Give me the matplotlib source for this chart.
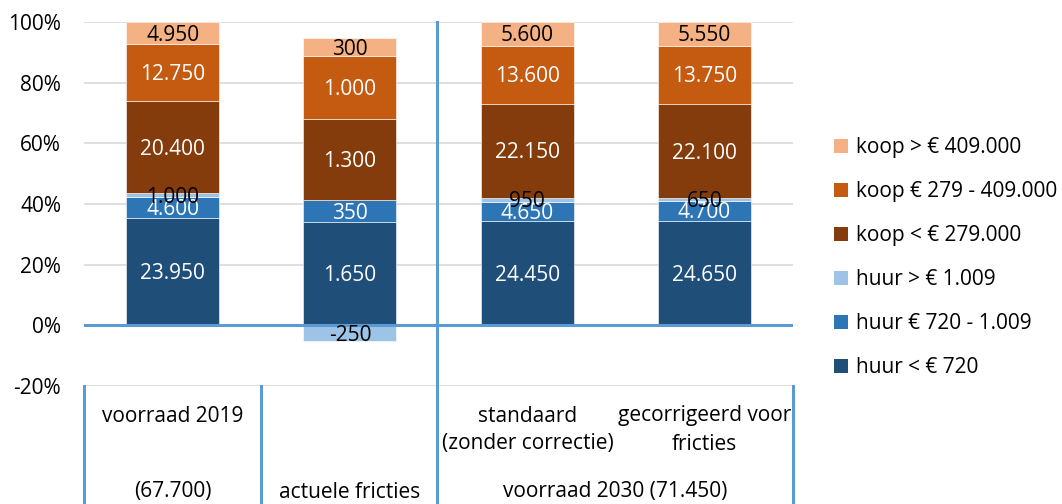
import matplotlib
matplotlib.use("Agg")
import matplotlib.pyplot as plt
from matplotlib.lines import Line2D
from matplotlib.patches import Patch
import numpy as np

plt.rcParams['font.family'] = ['Open Sans', 'DejaVu Sans']

# Housing stock per segment (number of dwellings)
categories = ["voorraad 2019", "actuele fricties", "standaard", "gecorrigeerd"]
series_names = ["huur < € 720", "huur € 720 - 1.009", "huur > € 1.009",
                "koop < € 279.000", "koop € 279 - 409.000", "koop > € 409.000"]
huur_laag = [23950, 1650, 24450, 24650]
huur_midden = [4600, 350, 4650, 4700]
huur_hoog = [1000, -250, 950, 650]
koop_laag = [20400, 1300, 22150, 22100]
koop_midden = [12750, 1000, 13600, 13750]
koop_hoog = [4950, 300, 5600, 5550]

series = [huur_laag, huur_midden, huur_hoog, koop_laag, koop_midden, koop_hoog]
colors = ["#1F4E79", "#2E75B6", "#9DC3E6", "#843C0C", "#C55A11", "#F4B183"]
label_colors = ["white", "white", "black", "white", "white", "black"]

W, H = 1062, 504
fig = plt.figure(figsize=(W / 100, H / 100), dpi=100)

def fx(px):
    return px / W

def fy(py):
    return 1 - py / H

ax = fig.add_axes([fx(84), fy(386), fx(793) - fx(84), fy(22) - fy(386)])

vals = np.array(series, dtype=float)
totals = np.abs(vals).sum(axis=0)
pct = vals / totals * 100

x = np.arange(len(categories))
bar_w = 0.525
pos_bottom = np.zeros(len(categories))
neg_bottom = np.zeros(len(categories))
FS = 15
for i in range(len(series)):
    p = pct[i]
    bottoms = np.where(p >= 0, pos_bottom, neg_bottom)
    ax.bar(x, p, bar_w, bottom=bottoms, color=colors[i], edgecolor="white",
           linewidth=0.4, zorder=3)
    for j in range(len(categories)):
        yc = bottoms[j] + p[j] / 2
        txt = f"{int(vals[i][j]):,}".replace(",", ".")
        ax.annotate(txt, (x[j], yc), xytext=(0, -1.5), textcoords="offset points",
                    ha="center", va="center", fontsize=FS,
                    color=label_colors[i], zorder=5)
    pos_bottom = pos_bottom + np.where(p >= 0, p, 0)
    neg_bottom = neg_bottom + np.where(p < 0, p, 0)

ax.set_xlim(-0.5, len(categories) - 0.5)
ax.set_ylim(-20, 100)
ax.set_yticks(np.arange(-20, 101, 20))
ax.set_yticklabels([f"{v}%" for v in range(-20, 101, 20)], fontsize=FS)
ax.tick_params(axis="y", length=0, pad=16.5)
ax.set_xticks([])
for s in ax.spines.values():
    s.set_visible(False)
for v in range(-20, 101, 20):
    if v != 0:
        ax.axhline(v, color="#D9D9D9", linewidth=1.2, zorder=1)
ax.axhline(0, color="#5B9BD5", linewidth=2.2, zorder=4)

# category axis dividers
line_c = "#5B9BD5"
for px, top in [(84, 386), (261, 386), (437, 22), (793, 386)]:
    fig.add_artist(Line2D([fx(px), fx(px)], [fy(top), 0], color=line_c,
                          linewidth=2.2, zorder=6))

# category labels
cx = [172.5, 350, 527.5, 704.5]
fig.text(fx(cx[0]), fy(416), "voorraad 2019", ha="center", va="center", fontsize=FS)
fig.text(fx(cx[0]), fy(492), "(67.700)", ha="center", va="center", fontsize=FS)
fig.text(fx(cx[1]), fy(492), "actuele fricties", ha="center", va="center", fontsize=FS)
fig.text(fx(cx[2]), fy(416), "standaard", ha="center", va="center", fontsize=FS)
fig.text(fx(cx[2]), fy(444), "(zonder correctie)", ha="center", va="center", fontsize=FS)
fig.text(fx(cx[3]), fy(416), "gecorrigeerd voor", ha="center", va="center", fontsize=FS)
fig.text(fx(cx[3]), fy(444), "fricties", ha="center", va="center", fontsize=FS)
fig.text(fx(615), fy(492), "voorraad 2030 (71.450)", ha="center", va="center", fontsize=FS)

# legend
handles = [Patch(facecolor=colors[i], edgecolor="none") for i in range(len(series))][::-1]
labels = series_names[::-1]
fig.legend(handles, labels, loc="upper left", bbox_to_anchor=(fx(824), fy(127)),
           frameon=False, fontsize=FS, handlelength=0.65, handleheight=0.65,
           handletextpad=0.4, labelspacing=1.1, borderpad=0)

fig.savefig("out.png", dpi=100)
